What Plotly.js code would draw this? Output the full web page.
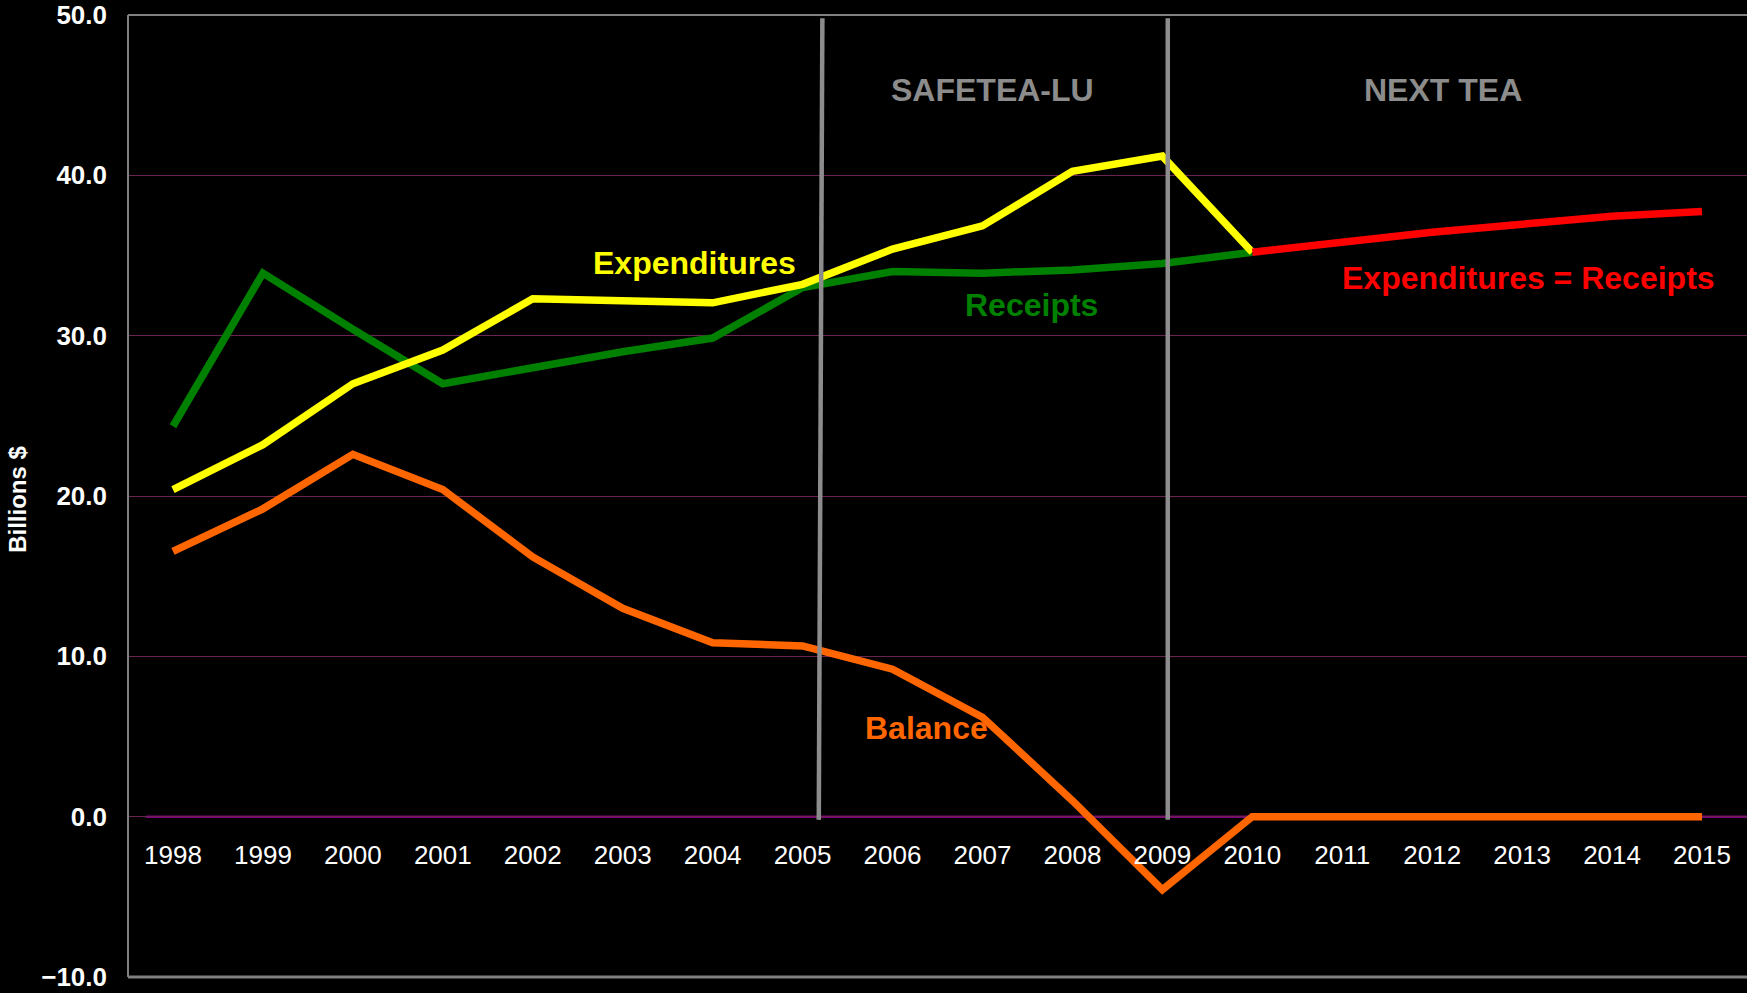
<!DOCTYPE html>
<html>
<head>
<meta charset="utf-8">
<script src="https://cdn.plot.ly/plotly-3.0.1.min.js"></script>
<style>
  html, body { margin: 0; padding: 0; background: #000000; }
  #chart { width: 1747px; height: 993px; }
</style>
</head>
<body>
<div id="chart"></div>
<script>
// ---- Data (billions of dollars) ----
const years = [1998, 1999, 2000, 2001, 2002, 2003, 2004, 2005, 2006, 2007, 2008, 2009, 2010, 2011, 2012, 2013, 2014, 2015];
const histYears = [1998, 1999, 2000, 2001, 2002, 2003, 2004, 2005, 2006, 2007, 2008, 2009, 2010];
const expenditures = [20.4, 23.2, 27.0, 29.1, 32.3, 32.2, 32.05, 33.2, 35.4, 36.85, 40.25, 41.2, 35.2];
const receipts = [24.35, 33.9, 30.4, 27.0, 28.0, 29.0, 29.85, 33.0, 34.0, 33.9, 34.1, 34.5, 35.2];
const projYears = [2010, 2011, 2012, 2013, 2014, 2015];
const expEqualsRec = [35.2, 35.85, 36.45, 36.95, 37.45, 37.75];
const balance = [16.55, 19.2, 22.6, 20.4, 16.2, 13.0, 10.85, 10.65, 9.2, 6.2, 1.0, -4.55, 0, 0, 0, 0, 0, 0];
const periodBreaks = [2005.2, 2009.06];
const yTicks = [-10, 0, 10, 20, 30, 40, 50];

const FONT = 'Liberation Sans, Arial, sans-serif';

const traces = [
  {x: histYears, y: receipts, mode: 'lines', line: {color: '#008000', width: 7.5}, name: 'Receipts'},
  {x: histYears, y: expenditures, mode: 'lines', line: {color: '#FFFF00', width: 7.5}, name: 'Expenditures'},
  {x: years, y: balance, mode: 'lines', line: {color: '#FF6600', width: 7.5}, name: 'Balance'},
  {x: projYears, y: expEqualsRec, mode: 'lines', line: {color: '#FF0000', width: 7.5}, name: 'Expenditures = Receipts'}
];

const shapes = [
  // zero line
  {type: 'line', xref: 'x', yref: 'y', x0: 1997.7, x1: 2015.5, y0: 0, y1: 0, layer: 'below',
   line: {color: '#800080', width: 2.5}},
  // plot frame (top, left, bottom)
  {type: 'line', xref: 'paper', yref: 'paper', x0: 0, x1: 1, y0: 1, y1: 1, line: {color: '#808080', width: 2}},
  {type: 'line', xref: 'paper', yref: 'paper', x0: 0, x1: 0, y0: 0, y1: 1, line: {color: '#808080', width: 2}},
  {type: 'line', xref: 'paper', yref: 'paper', x0: 0, x1: 1, y0: 0, y1: 0, line: {color: '#808080', width: 3}},
  // period separators
  {type: 'line', xref: 'x', yref: 'y', x0: periodBreaks[0] + 0.02, x1: periodBreaks[0] - 0.02, y0: 49.8, y1: -0.2,
   layer: 'above', line: {color: '#8C8C8C', width: 4.5}},
  {type: 'line', xref: 'x', yref: 'y', x0: periodBreaks[1], x1: periodBreaks[1], y0: 49.8, y1: -0.2,
   layer: 'above', line: {color: '#8C8C8C', width: 4.5}}
];

function label(text, x, y, color) {
  return {text: text, x: x, y: y, xref: 'x', yref: 'y', showarrow: false,
          xanchor: 'center', yanchor: 'middle',
          font: {family: FONT, size: 32, color: color, weight: 'bold'}};
}

const annotations = [
  label('SAFETEA-LU', 2007.11, 45.3, '#8C8C8C'),
  label('NEXT TEA', 2012.12, 45.3, '#8C8C8C'),
  label('Expenditures', 2003.8, 34.55, '#FFFF00'),
  label('Receipts', 2007.55, 31.9, '#008000'),
  label('Balance', 2006.38, 5.55, '#FF6600'),
  label('Expenditures = Receipts', 2013.07, 33.6, '#FF0000'),
  {text: 'Billions $', xref: 'paper', yref: 'paper', x: -0.068, y: 0.497, textangle: -90,
   showarrow: false, xanchor: 'center', yanchor: 'middle',
   font: {family: FONT, size: 24, color: '#FFFFFF', weight: 'bold'}}
];

const layout = {
  width: 1747, height: 993,
  paper_bgcolor: '#000000', plot_bgcolor: '#000000',
  margin: {l: 128, r: 0, t: 15, b: 16, pad: 0},
  showlegend: false,
  font: {family: FONT, color: '#FFFFFF'},
  xaxis: {
    range: [1997.5, 2015.5], tickmode: 'array', tickvals: years, ticktext: years.map(String),
    anchor: 'free', position: 10 / 60, showline: false, showgrid: false, zeroline: false,
    ticks: '', ticklabelstandoff: 20,
    tickfont: {family: FONT, size: 26, color: '#FFFFFF'}
  },
  yaxis: {
    range: [-10, 50], tickmode: 'array', tickvals: yTicks, tickformat: '.1f',
    showgrid: true, gridcolor: '#6A2450', gridwidth: 1, zeroline: false, showline: false,
    ticks: '', ticklabelstandoff: 20,
    tickfont: {family: FONT, size: 26, color: '#FFFFFF', weight: 'bold'}
  },
  shapes: shapes,
  annotations: annotations
};

Plotly.newPlot('chart', traces, layout, {displayModeBar: false, staticPlot: true});
</script>
</body>
</html>
